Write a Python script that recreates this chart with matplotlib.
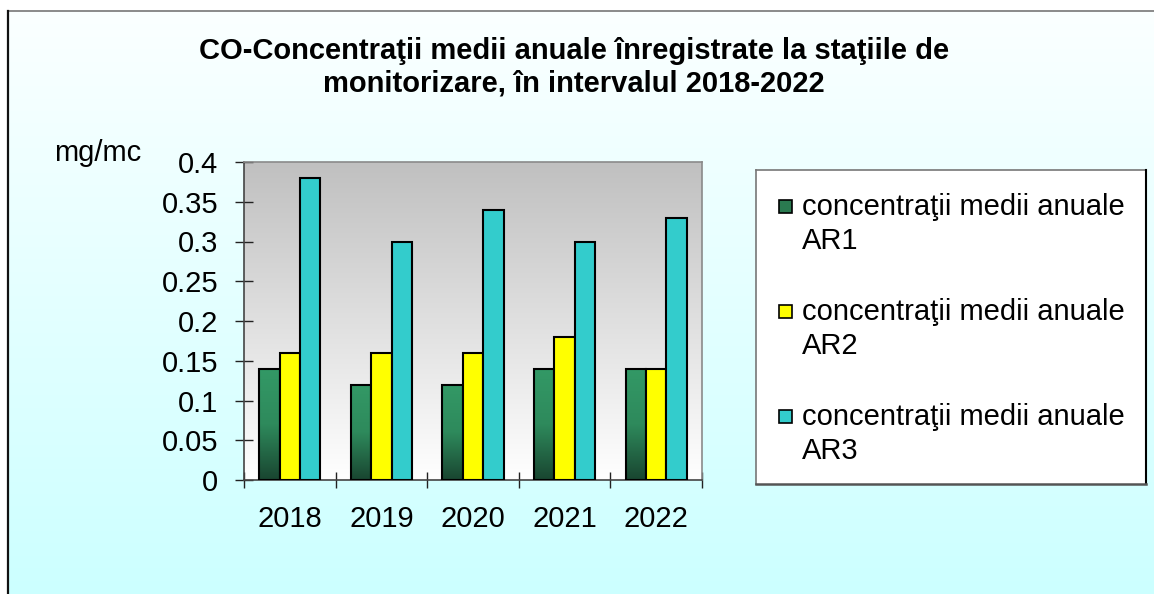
import numpy as np
import matplotlib
matplotlib.use("Agg")
import matplotlib.pyplot as plt
from matplotlib.colors import LinearSegmentedColormap
from matplotlib.patches import Rectangle

# ---------------- data ----------------
years = ['2018', '2019', '2020', '2021', '2022']
ar1 = [0.14, 0.12, 0.12, 0.14, 0.14]
ar2 = [0.16, 0.16, 0.16, 0.18, 0.14]
ar3 = [0.38, 0.30, 0.34, 0.30, 0.33]
series_labels = ['concentraţii medii anuale\nAR1',
                 'concentraţii medii anuale\nAR2',
                 'concentraţii medii anuale\nAR3']
yticks = [0, 0.05, 0.1, 0.15, 0.2, 0.25, 0.3, 0.35, 0.4]
ytick_labels = ['0', '0.05', '0.1', '0.15', '0.2', '0.25', '0.3', '0.35', '0.4']
title = 'CO-Concentraţii medii anuale înregistrate la staţiile de\nmonitorizare, în intervalul 2018-2022'
unit = 'mg/mc'

plt.rcParams['font.family'] = ['Liberation Sans', 'DejaVu Sans']

W, H = 1154, 594
FS = 21
fig = plt.figure(figsize=(W / 100, H / 100), dpi=100)
fig.patch.set_facecolor('white')

# ---------------- background (figure) ----------------
bg = fig.add_axes([0, 0, 1, 1], zorder=-10)
bg.set_axis_off()
grad = np.linspace(0, 1, 256).reshape(-1, 1)
cmap_bg = LinearSegmentedColormap.from_list('bg', ['#fbffff', '#ccffff'])
bg.imshow(grad, extent=[8, W, H, 11], cmap=cmap_bg, aspect='auto', interpolation='bilinear')
bg.plot([8, W], [11, 11], color='#8a8a8a', lw=1.4)
bg.plot([8, 8], [11, H], color='#111111', lw=1.6)
bg.set_xlim(0, W)
bg.set_ylim(H, 0)

# ---------------- main axes ----------------
ax = fig.add_axes([244 / W, 1 - 480 / H, 458 / W, 318 / H])
cmap_plot = LinearSegmentedColormap.from_list('pa', ['#c0c0c0', '#ffffff'])
ax.imshow(grad, extent=[0, 1, 0, 1], transform=ax.transAxes, cmap=cmap_plot,
          aspect='auto', zorder=0, interpolation='bilinear')

x = np.arange(len(years))
w = 0.222
green_cmap = LinearSegmentedColormap.from_list('gr', ['#339966', '#2e8a5c', '#194530'])
b1 = ax.bar(x - w, ar1, w, facecolor='none', edgecolor='black', linewidth=1.5, zorder=4)
for p in b1:
    ax.imshow(grad, extent=[p.get_x(), p.get_x() + p.get_width(), 0, p.get_height()],
              cmap=green_cmap, aspect='auto', zorder=3, interpolation='bilinear')
ax.bar(x, ar2, w, color='#ffff00', edgecolor='black', linewidth=1.5, zorder=4)
ax.bar(x + w, ar3, w, color='#33cccc', edgecolor='black', linewidth=1.5, zorder=4)

ax.set_xlim(-0.5, len(years) - 0.5)
ax.set_ylim(0, 0.4)
ax.set_yticks(yticks)
ax.set_yticklabels(ytick_labels, fontsize=FS)
ax.tick_params(axis='y', direction='inout', length=13, width=1, color='#222222', pad=12)
ax.set_xticks(x)
ax.set_xticklabels(years, fontsize=FS)
ax.tick_params(axis='x', which='major', length=0, pad=18)
ax.set_xticks(np.arange(len(years) + 1) - 0.5, minor=True)
ax.tick_params(axis='x', which='minor', direction='inout', length=11.5, width=1, color='#222222')

for s in ['top', 'right']:
    ax.spines[s].set_color('#8a8a8a')
    ax.spines[s].set_linewidth(1.2)
for s in ['left', 'bottom']:
    ax.spines[s].set_color('#444444')
    ax.spines[s].set_linewidth(1.2)

# ---------------- texts ----------------
fig.text(574 / W, 1 - 67 / H, title, ha='center', va='center', fontsize=21,
         fontweight='bold', linespacing=1.2)
fig.text(54 / W, 1 - 161 / H, unit, ha='left', va='baseline', fontsize=FS)

# ---------------- legend (manual) ----------------
lg = fig.add_axes([0, 0, 1, 1], zorder=5)
lg.set_axis_off()
lg.set_xlim(0, W)
lg.set_ylim(H, 0)
lg.add_patch(Rectangle((756, 170), 1146 - 756, 484 - 170, facecolor='white',
                       edgecolor='none'))
lg.plot([756, 1146], [170, 170], color='#777777', lw=1.2)
lg.plot([756, 756], [170, 484], color='#777777', lw=1.2)
lg.plot([1146, 1146], [170, 484], color='black', lw=1.5)
lg.plot([756, 1146], [484, 484], color='#555555', lw=1.8)
swatch_colors = ['#2a7a50', '#ffff00', '#33cccc']
for i, (lab, c) in enumerate(zip(series_labels, swatch_colors)):
    base = 215 + 105 * i
    lg.add_patch(Rectangle((779, base - 15), 13, 13, facecolor=c, edgecolor='black', lw=1.2))
    for j, line in enumerate(lab.split('\n')):
        lg.text(802, base + 34 * j, line, ha='left', va='baseline', fontsize=FS)

fig.savefig('out.png', dpi=100)
